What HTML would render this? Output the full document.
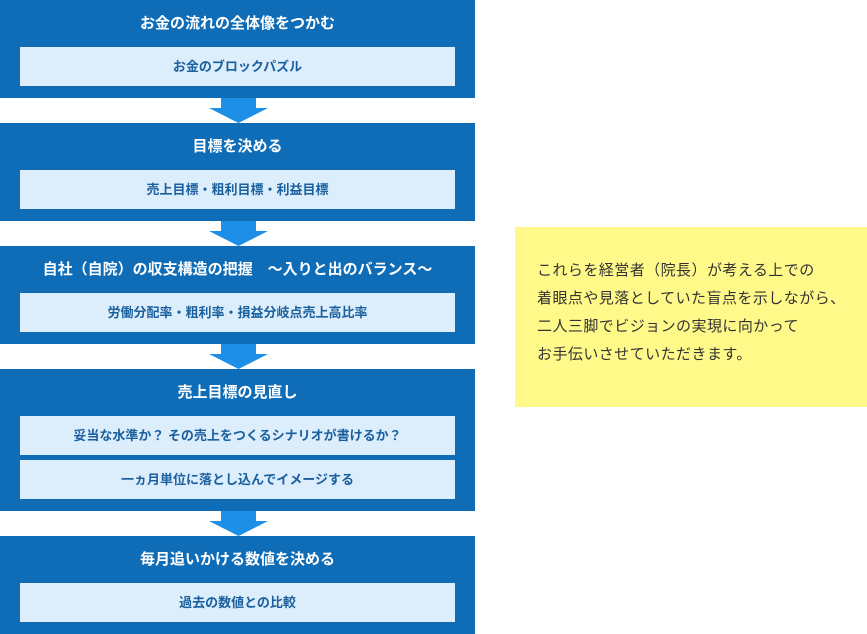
<!DOCTYPE html><html><head><meta charset="utf-8"><style>
body{margin:0;width:867px;height:634px;background:#fff;position:relative;overflow:hidden;font-family:"Liberation Sans","Noto Sans CJK JP",sans-serif}
.b{position:absolute;left:0;width:475px;background:#0f6db8}
.t{position:absolute;left:0;width:475px;text-align:center;color:#fff;font-weight:bold;font-size:15px;line-height:20px}
.i{position:absolute;left:20px;width:435px;height:39px;background:#dcedfc;color:#1a5f9e;font-weight:bold;font-size:13px;line-height:39px;text-align:center}
.a{position:absolute;left:209px;width:59px;height:25px}
.y{position:absolute;left:515px;top:227px;width:352px;height:180px;background:#fff98a;color:#333;font-size:15px;letter-spacing:0.45px;line-height:28px;box-sizing:border-box;padding:30px 0 0 22px;white-space:nowrap}
</style></head><body>
<div class="b" style="top:0;height:98px"><div class="t" style="top:14px">お金の流れの全体像をつかむ</div><div class="i" style="top:47px">お金のブロックパズル</div></div>
<div class="b" style="top:123px;height:98px"><div class="t" style="top:14px">目標を決める</div><div class="i" style="top:47px">売上目標・粗利目標・利益目標</div></div>
<div class="b" style="top:246px;height:98px"><div class="t" style="top:14px">自社（自院）の収支構造の把握　～入りと出のバランス～</div><div class="i" style="top:47px">労働分配率・粗利率・損益分岐点売上高比率</div></div>
<div class="b" style="top:369px;height:142px"><div class="t" style="top:14px">売上目標の見直し</div><div class="i" style="top:47px">妥当な水準か？ その売上をつくるシナリオが書けるか？</div><div class="i" style="top:91px">一ヵ月単位に落とし込んでイメージする</div></div>
<div class="b" style="top:536px;height:98px"><div class="t" style="top:14px">毎月追いかける数値を決める</div><div class="i" style="top:47px">過去の数値との比較</div></div>
<svg class="a" style="top:98px"><polygon points="12,0 47,0 47,10 59,10 29.5,25 0,10 12,10" fill="#1d8fe6"/></svg>
<svg class="a" style="top:221px"><polygon points="12,0 47,0 47,10 59,10 29.5,25 0,10 12,10" fill="#1d8fe6"/></svg>
<svg class="a" style="top:344px"><polygon points="12,0 47,0 47,10 59,10 29.5,25 0,10 12,10" fill="#1d8fe6"/></svg>
<svg class="a" style="top:511px"><polygon points="12,0 47,0 47,10 59,10 29.5,25 0,10 12,10" fill="#1d8fe6"/></svg>
<div class="y">これらを経営者（院長）が考える上での<br>着眼点や見落としていた盲点を示しながら、<br>二人三脚でビジョンの実現に向かって<br>お手伝いさせていただきます。</div>
</body></html>
